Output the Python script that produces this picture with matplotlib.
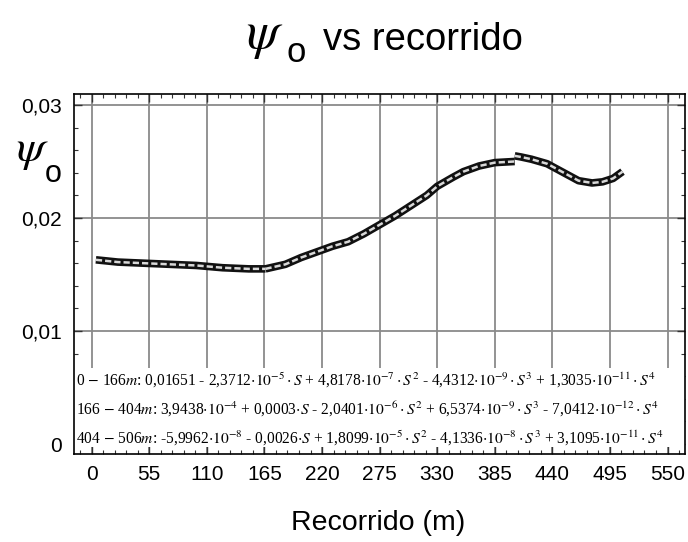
import matplotlib
matplotlib.use("Agg")
import matplotlib.pyplot as plt
from matplotlib.ticker import MultipleLocator, FuncFormatter
from matplotlib.patches import Rectangle

plt.rcParams["font.family"] = ["Liberation Sans", "DejaVu Sans"]
plt.rcParams["mathtext.fontset"] = "stix"

# --- datos (recorrido en m, psi_o) ---
tramo1_s = [4, 25, 50, 75, 100, 125, 150, 166]
tramo1_psi = [0.0163, 0.0161, 0.0160, 0.0159, 0.0158, 0.0156, 0.0155, 0.0155]

tramo2_s = [166, 185, 200, 215, 230, 245, 260, 275, 290, 305, 320, 330,
            345, 355, 370, 385, 404]
tramo2_psi = [0.0155, 0.0159, 0.0165, 0.0170, 0.0175, 0.0179, 0.0186, 0.0194,
              0.0202, 0.0211, 0.0220, 0.0228, 0.0236, 0.0241, 0.0246, 0.0249,
              0.0250]

tramo3_s = [404, 410, 420, 435, 445, 455, 465, 478, 488, 498, 507]
tramo3_psi = [0.0255, 0.0254, 0.0252, 0.0248, 0.0243, 0.0238, 0.0233, 0.0231,
              0.0232, 0.0235, 0.0241]

x_ticks = [0, 55, 110, 165, 220, 275, 330, 385, 440, 495, 550]
y_ticks = [0, 0.01, 0.02, 0.03]

ecuaciones = [
    r"0 $-$ 166$m$: 0,01651 - 2,3712$\cdot10^{-5}\cdot S$ + 4,8178$\cdot10^{-7}\cdot S^2$"
    r" - 4,4312$\cdot10^{-9}\cdot S^3$ + 1,3035$\cdot10^{-11}\cdot S^4$",
    r"166 $-$ 404$m$: 3,9438$\cdot10^{-4}$ + 0,0003$\cdot S$ - 2,0401$\cdot10^{-6}\cdot S^2$"
    r" + 6,5374$\cdot10^{-9}\cdot S^3$ - 7,0412$\cdot10^{-12}\cdot S^4$",
    r"404 $-$ 506$m$: -5,9962$\cdot10^{-8}$ - 0,0026$\cdot S$ + 1,8099$\cdot10^{-5}\cdot S^2$"
    r" - 4,1336$\cdot10^{-8}\cdot S^3$ + 3,1095$\cdot10^{-11}\cdot S^4$",
]

W, H = 688, 542
fig = plt.figure(figsize=(W / 100, H / 100), dpi=100)
ax = fig.add_axes([74 / W, 1 - 454 / H, (685 - 74) / W, (454 - 94) / H])
ax.set_axisbelow(True)

for s, p in [(tramo1_s, tramo1_psi), (tramo2_s, tramo2_psi), (tramo3_s, tramo3_psi)]:
    ax.plot(s, p, color="#111111", lw=5.5, solid_capstyle="butt", zorder=3)
    ax.plot(s, p, color="#d8d8d8", lw=1.8, dashes=(2.5, 1.2), zorder=4)

ax.set_xlim(-16.9, 566.7)
ax.set_ylim(-0.00088, 0.03097)

ax.xaxis.set_major_locator(MultipleLocator(55))
ax.xaxis.set_minor_locator(MultipleLocator(11))
ax.yaxis.set_major_locator(MultipleLocator(0.01))
ax.yaxis.set_minor_locator(MultipleLocator(0.002))
ax.set_xticks(x_ticks)
ax.set_yticks(y_ticks)
ax.yaxis.set_major_formatter(FuncFormatter(lambda v, _: "0" if abs(v) < 1e-9 else f"{v:.2f}".replace(".", ",")))

ax.tick_params(which="both", direction="in", top=True, right=True, color="#333333")
ax.tick_params(which="major", length=6, width=1.0, labelsize=15, pad=8)
ax.tick_params(which="minor", length=3, width=0.8)
ax.tick_params(axis="y", which="major", pad=9)

ax.grid(True, which="major", color="#8a8a8a", lw=1.3)
for sp in ax.spines.values():
    sp.set_linewidth(1.2)

# caja blanca de las ecuaciones
ax.add_patch(Rectangle((0, 0.02), 1, 0.219, transform=ax.transAxes,
                       facecolor="white", edgecolor="none", zorder=1))
for i, txt in enumerate(ecuaciones):
    ax.text(0.004, 0.203 - i * 0.08, txt, transform=ax.transAxes, fontsize=11.2,
            family="Liberation Serif", va="center", ha="left", zorder=5)

# titulo
fig.text(246 / W, 1 - 36 / H, r"$\psi$", fontsize=38, ha="left", va="center")
fig.text(286 / W, 1 - 52 / H, "o", fontsize=25, ha="left", va="center")
fig.text(323 / W, 1 - 40 / H, "vs recorrido", fontsize=27.5, ha="left", va="center")

# etiqueta eje y
fig.text(16 / W, 1 - 150 / H, r"$\psi$", fontsize=33, ha="left", va="center")
fig.text(45 / W, 1 - 174 / H, "o", fontsize=22, ha="left", va="center")

fig.text(378 / W, 1 - 523 / H, "Recorrido (m)", fontsize=20.5, ha="center", va="center")

fig.savefig("out.png", dpi=100)
